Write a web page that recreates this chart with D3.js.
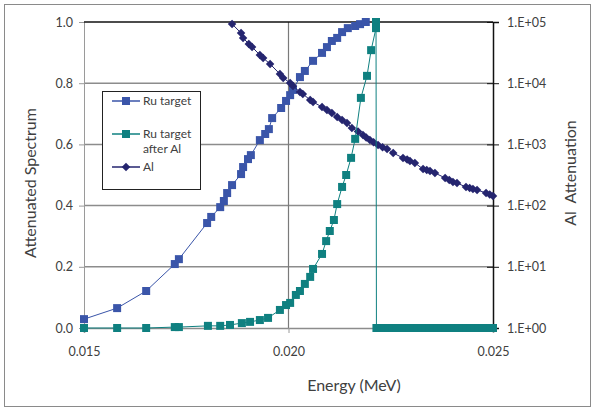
<!doctype html>
<html>
  <head>
    <meta charset="utf-8">
    <title>Attenuated spectrum</title>
    <script src="https://d3js.org/d3.v7.min.js"></script>
    <style type="text/css">
      body { margin: 0; background: #fff; }
      text { font-family: Lato, "Open Sans", sans-serif; fill: #404040; }
    </style>
  </head>
  <body>
    <script>
      // Ru target spectrum: energy (MeV) and relative intensity
      var ruEnergy = [0.01500, 0.01581, 0.01652, 0.01722, 0.01732, 0.01801, 0.01811, 0.01833, 0.01842,
        0.01850, 0.01862, 0.01884, 0.01889, 0.01901, 0.01908, 0.01930, 0.01943, 0.01952, 0.01960,
        0.01982, 0.01994, 0.02004, 0.02011, 0.02028, 0.02040, 0.02060, 0.02082, 0.02094, 0.02106,
        0.02119, 0.02131, 0.02145, 0.02163, 0.02175, 0.02189];
      var ruValue = [0.029, 0.065, 0.121, 0.209, 0.225, 0.343, 0.363, 0.395, 0.415,
        0.441, 0.467, 0.503, 0.526, 0.552, 0.565, 0.614, 0.634, 0.650, 0.686,
        0.719, 0.742, 0.761, 0.778, 0.820, 0.840, 0.873, 0.899, 0.918, 0.938,
        0.948, 0.967, 0.980, 0.987, 0.993, 1.000];

      // Ru target after Al filter
      var filtEnergy = [0.01500, 0.01581, 0.01652, 0.01722, 0.01732, 0.01803, 0.01833, 0.01857, 0.01886,
        0.01906, 0.01930, 0.01950, 0.01979, 0.01994, 0.02004, 0.02018, 0.02028, 0.02040, 0.02053,
        0.02060, 0.02082, 0.02092, 0.02101, 0.02111, 0.02119, 0.02131, 0.02141, 0.02153, 0.02163,
        0.02177, 0.02192, 0.02202, 0.02214, 0.02214, 0.02215,
        0.02225, 0.02235, 0.02245, 0.02255, 0.02265, 0.02275, 0.02285, 0.02295, 0.02305, 0.02315,
        0.02325, 0.02335, 0.02345, 0.02355, 0.02365, 0.02375, 0.02385, 0.02395, 0.02405, 0.02415,
        0.02425, 0.02435, 0.02445, 0.02455, 0.02465, 0.02475, 0.02485, 0.02495, 0.02500];
      var filtValue = [0, 0, 0, 0.003, 0.003, 0.007, 0.007, 0.010, 0.016,
        0.020, 0.026, 0.033, 0.059, 0.075, 0.082, 0.108, 0.121, 0.144, 0.167,
        0.193, 0.242, 0.284, 0.317, 0.353, 0.405, 0.461, 0.500, 0.556, 0.618,
        0.752, 0.824, 0.908, 0.980, 1.000, 0,
        0, 0, 0, 0, 0, 0, 0, 0, 0, 0,
        0, 0, 0, 0, 0, 0, 0, 0, 0, 0,
        0, 0, 0, 0, 0, 0, 0, 0, 0];

      // Al attenuation factor
      var alEnergy = [0.01862, 0.01884, 0.01889, 0.01903, 0.01911, 0.01930, 0.01938, 0.01955, 0.01979,
        0.01987, 0.02004, 0.02011, 0.02028, 0.02035, 0.02053, 0.02060, 0.02082, 0.02094, 0.02106,
        0.02119, 0.02131, 0.02143, 0.02155, 0.02170, 0.02182, 0.02190, 0.02199, 0.02208, 0.02219,
        0.02230, 0.02241, 0.02256, 0.02280, 0.02290, 0.02297, 0.02309, 0.02329, 0.02338, 0.02346,
        0.02358, 0.02383, 0.02393, 0.02402, 0.02412, 0.02434, 0.02443, 0.02451, 0.02461, 0.02483,
        0.02492, 0.02500];
      var alValue = [93000, 66000, 55000, 43700, 39000, 28900, 25800, 20600, 14100,
        12200, 10100, 9000, 7200, 6670, 5320, 4930, 4090, 3650, 3260,
        2800, 2500, 2240, 1850, 1620, 1430, 1300, 1180, 1080, 980,
        900, 840, 724, 600, 565, 536, 497, 396, 380, 367,
        341, 283, 262, 243, 234, 201, 194, 187, 180, 161,
        152, 144];

      var yTicks = [0, 0.2, 0.4, 0.6, 0.8, 1.0];
      var xTicks = [0.015, 0.020, 0.025];
      var y2Ticks = [1, 10, 100, 1000, 10000, 100000];

      var w = 595, h = 410;
      var plotL = 84, plotR = 493, plotT = 22, plotB = 328;

      var svg = d3.select("body").append("svg")
        .attr("width", w)
        .attr("height", h);

      // outer chart border
      svg.append("rect")
        .attr("x", 4.5).attr("y", 4.5)
        .attr("width", 586).attr("height", 402)
        .attr("fill", "none").attr("stroke", "#8a8a8a");

      var x = d3.scaleLinear().domain([0.015, 0.025]).range([plotL, plotR]);
      var y = d3.scaleLinear().domain([0, 1]).range([plotB, plotT]);
      var y2 = d3.scaleLog().domain([1, 100000]).range([plotB, plotT]);

      // gridlines
      svg.append("g").selectAll("line")
        .data(yTicks.slice(1, 5))
        .enter().append("line")
        .attr("x1", plotL).attr("x2", plotR)
        .attr("y1", d => y(d)).attr("y2", d => y(d))
        .attr("stroke", "#8c8c8c").attr("stroke-width", 1.5);
      svg.append("line")
        .attr("x1", x(0.020)).attr("x2", x(0.020))
        .attr("y1", plotT).attr("y2", plotB)
        .attr("stroke", "#7a7a7a").attr("stroke-width", 1.2);

      // left axis
      var yAxis = svg.append("g")
        .attr("transform", "translate(" + plotL + ",0)")
        .call(d3.axisLeft(y).tickValues(yTicks).tickFormat(d3.format(".1f")).tickSize(5).tickPadding(6));
      yAxis.select(".domain").attr("stroke", "#9a9a9a");
      yAxis.selectAll(".tick line").attr("stroke", "#9a9a9a");
      yAxis.selectAll("text").style("font-size", "12.5px").style("fill", "#404040");

      // bottom axis
      var xAxis = svg.append("g")
        .attr("transform", "translate(0," + plotB + ")")
        .call(d3.axisBottom(x).tickValues(xTicks).tickFormat(d3.format(".3f")).tickSize(5).tickPadding(14));
      xAxis.select(".domain").attr("stroke", "#8c8c8c").attr("stroke-width", 1.5);
      xAxis.selectAll(".tick line").attr("stroke", "#9a9a9a");
      xAxis.selectAll("text").style("font-size", "12.5px").style("fill", "#404040");

      // top border
      svg.append("line")
        .attr("x1", plotL).attr("x2", plotR)
        .attr("y1", plotT).attr("y2", plotT)
        .attr("stroke", "#111").attr("stroke-width", 1.5);

      // right (log) axis
      var y2Axis = svg.append("g")
        .attr("transform", "translate(" + plotR + ",0)")
        .call(d3.axisRight(y2).tickValues(y2Ticks)
          .tickFormat(d => "1.E+" + d3.format("02d")(Math.round(Math.log10(d))))
          .tickSize(6).tickPadding(8));
      y2Axis.select(".domain").attr("stroke", "#111").attr("stroke-width", 1.5);
      y2Axis.selectAll(".tick line").attr("stroke", "#111").attr("x1", -6);
      y2Axis.selectAll("text").style("font-size", "12.5px").style("fill", "#404040");

      // series
      var ruData = ruEnergy.map((e, i) => [e, ruValue[i]]);
      var filtData = filtEnergy.map((e, i) => [e, filtValue[i]]);
      var alData = alEnergy.map((e, i) => [e, alValue[i]]);

      var lineY = d3.line().x(d => x(d[0])).y(d => y(d[1]));
      var lineY2 = d3.line().x(d => x(d[0])).y(d => y2(d[1]));

      var cBlue = "#3a55a9", cTeal = "#0f8080", cNavy = "#25256f";
      var square = d3.symbol(d3.symbolSquare).size(64);
      var diamond = d3.symbol(d3.symbolSquare).size(36);

      // Ru target
      svg.append("path").datum(ruData)
        .attr("d", lineY).attr("fill", "none").attr("stroke", cBlue).attr("stroke-width", 1);
      svg.append("g").selectAll("path")
        .data(ruData).enter().append("path")
        .attr("d", square)
        .attr("transform", d => "translate(" + x(d[0]) + "," + y(d[1]) + ")")
        .attr("fill", cBlue);

      // Al attenuation
      svg.append("path").datum(alData)
        .attr("d", lineY2).attr("fill", "none").attr("stroke", cNavy).attr("stroke-width", 1);
      svg.append("g").selectAll("path")
        .data(alData).enter().append("path")
        .attr("d", diamond)
        .attr("transform", d => "translate(" + x(d[0]) + "," + y2(d[1]) + ") rotate(45)")
        .attr("fill", cNavy);

      // Ru target after Al
      svg.append("path").datum(filtData)
        .attr("d", lineY).attr("fill", "none").attr("stroke", cTeal).attr("stroke-width", 1);
      svg.append("g").selectAll("path")
        .data(filtData).enter().append("path")
        .attr("d", square)
        .attr("transform", d => "translate(" + x(d[0]) + "," + y(d[1]) + ")")
        .attr("fill", cTeal);

      // legend
      var legend = svg.append("g");
      legend.append("rect")
        .attr("x", 102.5).attr("y", 91.5)
        .attr("width", 98).attr("height", 98)
        .attr("fill", "#fff").attr("stroke", "#222").attr("stroke-width", 1);
      var legendItems = [
        {label: ["Ru target"], color: cBlue, sym: square, rot: 0, y: 101},
        {label: ["Ru target", "after Al"], color: cTeal, sym: square, rot: 0, y: 134},
        {label: ["Al"], color: cNavy, sym: diamond, rot: 45, y: 167}
      ];
      legendItems.forEach(function(it) {
        legend.append("line")
          .attr("x1", 112).attr("x2", 140)
          .attr("y1", it.y).attr("y2", it.y)
          .attr("stroke", it.color).attr("stroke-width", 1.5);
        legend.append("path")
          .attr("d", it.sym)
          .attr("transform", "translate(126," + it.y + ") rotate(" + it.rot + ")")
          .attr("fill", it.color);
        it.label.forEach(function(t, k) {
          legend.append("text")
            .attr("x", 143).attr("y", it.y + 4 + k * 15)
            .style("font-size", "12px")
            .text(t);
        });
      });

      // axis titles
      svg.append("text")
        .attr("transform", "translate(36,183) rotate(-90)")
        .attr("text-anchor", "middle")
        .style("font-size", "16px")
        .text("Attenuated Spectrum");
      svg.append("text")
        .attr("transform", "translate(576,173) rotate(-90)")
        .attr("text-anchor", "middle")
        .style("font-size", "16px")
        .attr("xml:space", "preserve")
        .text("Al  Attenuation");
      svg.append("text")
        .attr("x", 354).attr("y", 391)
        .attr("text-anchor", "middle")
        .style("font-size", "16px")
        .text("Energy (MeV)");
    </script>
  </body>
</html>
